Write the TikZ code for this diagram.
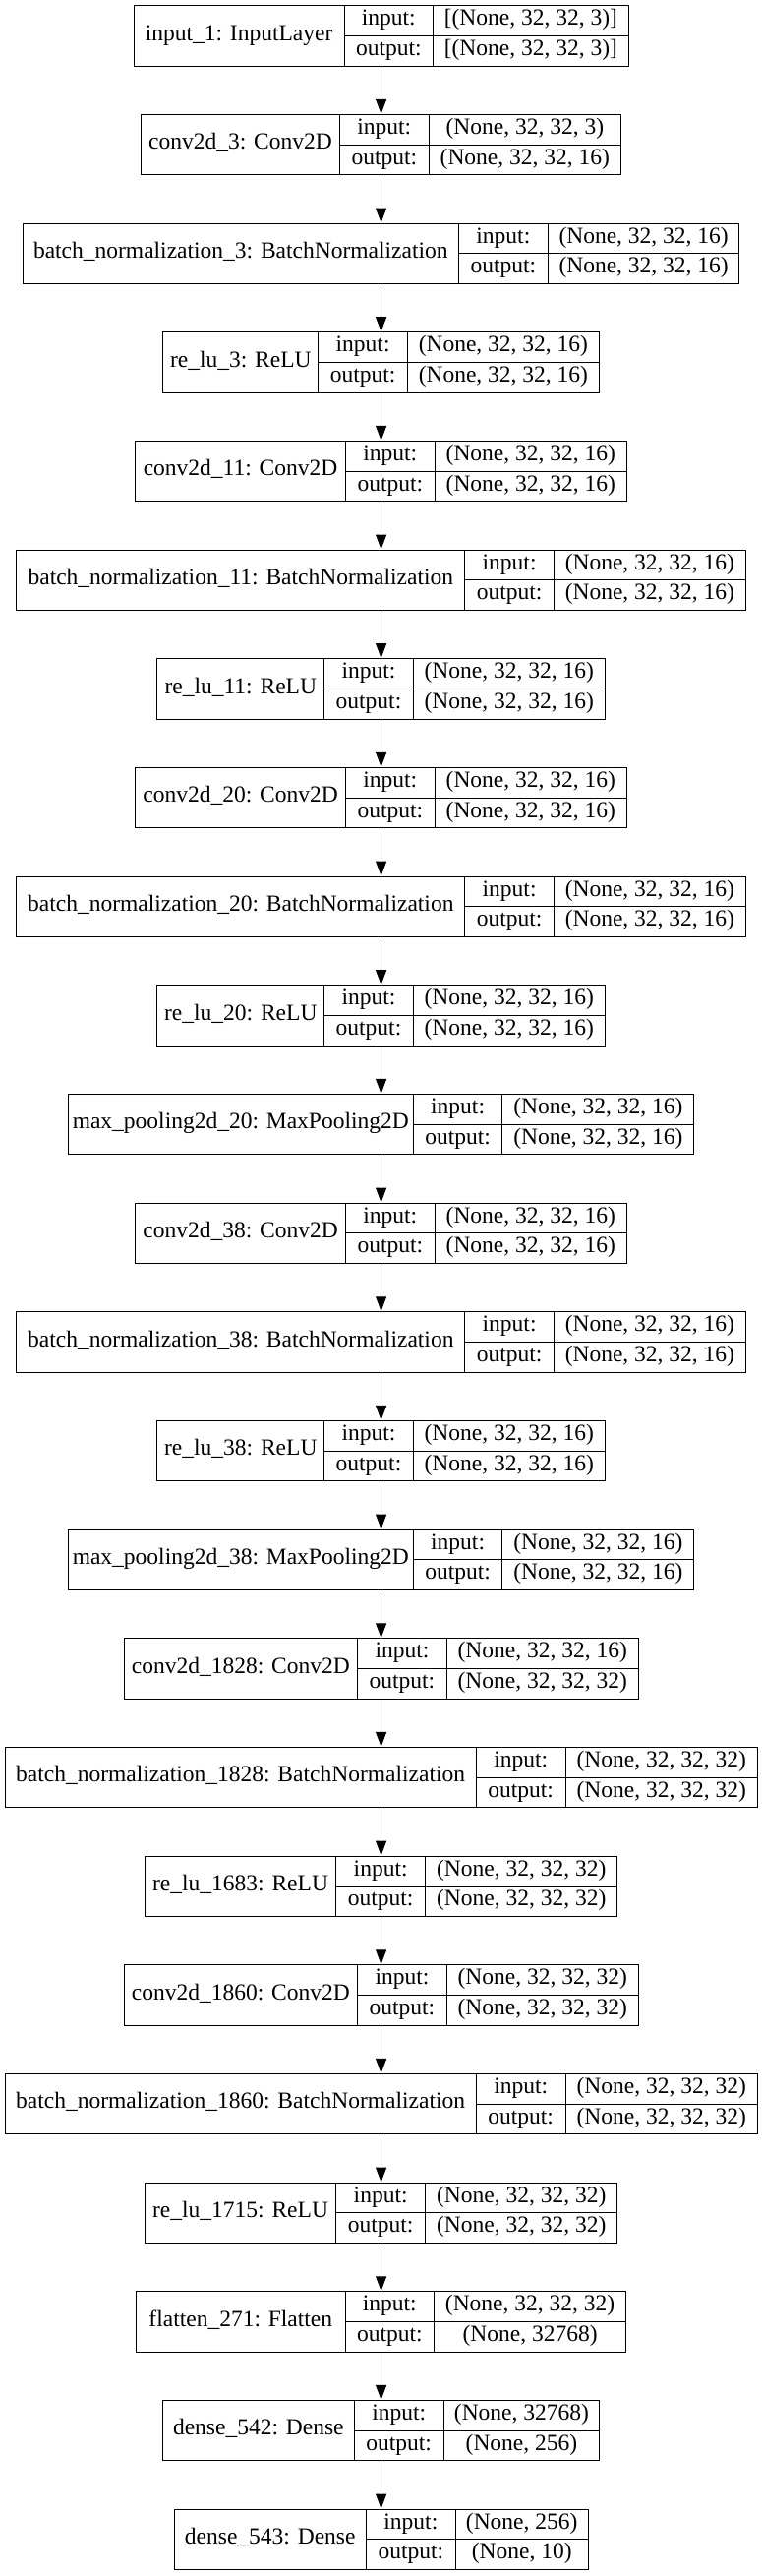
\documentclass[tikz,border=0pt]{standalone}
\usepackage{fontspec}
\setmainfont{Liberation Serif}
\usetikzlibrary{arrows.meta}
\tikzset{
  layerbox/.style={draw=black, line width=1pt, inner sep=0pt, minimum height=61.3pt},
  cellline/.style={draw=black, line width=1pt},
  celltext/.style={inner sep=0pt, text height=15.6pt, text depth=6pt, font=\fontsize{23.5}{28}\selectfont},
  flow/.style={-{Triangle[length=15pt,width=11pt]}, line width=1pt, draw=black},
}
% #1 name, #2 index, #3 left x, #4 first divider, #5 second divider, #6 label, #7 input shape, #8 output shape
\newcommand{\klayer}[8]{%
  \pgfmathsetmacro{\yT}{5.7+110.67*#2}%
  \pgfmathsetmacro{\yM}{\yT+30.65}%
  \pgfmathsetmacro{\yB}{\yT+61.3}%
  \pgfmathsetmacro{\yA}{\yT+15.33}%
  \pgfmathsetmacro{\yC}{\yT+45.98}%
  \pgfmathsetmacro{\xR}{775.2-#3}%
  \pgfmathsetmacro{\wid}{\xR-#3}%
  \node[layerbox, minimum width=\wid pt] (#1) at (387.6,\yM) {};
  \draw[cellline] (#4,\yT) -- (#4,\yB) (#5,\yT) -- (#5,\yB) (#4,\yM) -- (\xR,\yM);
  \node[celltext] (#1-name) at ({(#3+#4)/2},\yM) {#6};
  \node[celltext] (#1-inl) at ({(#4+#5)/2},\yA) {input:};
  \node[celltext] (#1-outl) at ({(#4+#5)/2},\yC) {output:};
  \node[celltext] (#1-in) at ({(#5+\xR)/2},\yA) {#7};
  \node[celltext] (#1-out) at ({(#5+\xR)/2},\yC) {#8};
}
\begin{document}
\begin{tikzpicture}[x=1pt,y=-1pt]
\useasboundingbox (0,0) rectangle (775,2619);
\klayer{L0}{0}{136.1}{350}{440.6}{input\_1: InputLayer}{[(None, 32, 32, 3)]}{[(None, 32, 32, 3)]}
\klayer{L1}{1}{143.6}{345.5}{436.1}{conv2d\_3: Conv2D}{(None, 32, 32, 3)}{(None, 32, 32, 16)}
\klayer{L2}{2}{23.3}{466.3}{557.4}{batch\_normalization\_3: BatchNormalization}{(None, 32, 32, 16)}{(None, 32, 32, 16)}
\klayer{L3}{3}{165.8}{323.8}{414.4}{re\_lu\_3: ReLU}{(None, 32, 32, 16)}{(None, 32, 32, 16)}
\klayer{L4}{4}{137.6}{351.5}{442.1}{conv2d\_11: Conv2D}{(None, 32, 32, 16)}{(None, 32, 32, 16)}
\klayer{L5}{5}{16.8}{472.8}{563.4}{batch\_normalization\_11: BatchNormalization}{(None, 32, 32, 16)}{(None, 32, 32, 16)}
\klayer{L6}{6}{159.9}{329.7}{420.3}{re\_lu\_11: ReLU}{(None, 32, 32, 16)}{(None, 32, 32, 16)}
\klayer{L7}{7}{137.6}{351.5}{442.1}{conv2d\_20: Conv2D}{(None, 32, 32, 16)}{(None, 32, 32, 16)}
\klayer{L8}{8}{16.8}{472.8}{563.4}{batch\_normalization\_20: BatchNormalization}{(None, 32, 32, 16)}{(None, 32, 32, 16)}
\klayer{L9}{9}{159.9}{329.7}{420.3}{re\_lu\_20: ReLU}{(None, 32, 32, 16)}{(None, 32, 32, 16)}
\klayer{L10}{10}{69.3}{420.3}{510.9}{max\_pooling2d\_20: MaxPooling2D}{(None, 32, 32, 16)}{(None, 32, 32, 16)}
\klayer{L11}{11}{137.6}{351.5}{442.1}{conv2d\_38: Conv2D}{(None, 32, 32, 16)}{(None, 32, 32, 16)}
\klayer{L12}{12}{16.8}{472.8}{563.4}{batch\_normalization\_38: BatchNormalization}{(None, 32, 32, 16)}{(None, 32, 32, 16)}
\klayer{L13}{13}{159.9}{329.7}{420.3}{re\_lu\_38: ReLU}{(None, 32, 32, 16)}{(None, 32, 32, 16)}
\klayer{L14}{14}{69.3}{420.3}{510.9}{max\_pooling2d\_38: MaxPooling2D}{(None, 32, 32, 16)}{(None, 32, 32, 16)}
\klayer{L15}{15}{126.2}{363.4}{454.5}{conv2d\_1828: Conv2D}{(None, 32, 32, 16)}{(None, 32, 32, 32)}
\klayer{L16}{16}{5}{484.2}{575.2}{batch\_normalization\_1828: BatchNormalization}{(None, 32, 32, 32)}{(None, 32, 32, 32)}
\klayer{L17}{17}{147.5}{341.6}{432.7}{re\_lu\_1683: ReLU}{(None, 32, 32, 32)}{(None, 32, 32, 32)}
\klayer{L18}{18}{126.2}{363.4}{454.5}{conv2d\_1860: Conv2D}{(None, 32, 32, 32)}{(None, 32, 32, 32)}
\klayer{L19}{19}{5}{484.2}{575.2}{batch\_normalization\_1860: BatchNormalization}{(None, 32, 32, 32)}{(None, 32, 32, 32)}
\klayer{L20}{20}{147.5}{341.6}{432.7}{re\_lu\_1715: ReLU}{(None, 32, 32, 32)}{(None, 32, 32, 32)}
\klayer{L21}{21}{138.6}{351}{441.6}{flatten\_271: Flatten}{(None, 32, 32, 32)}{(None, 32768)}
\klayer{L22}{22}{165.3}{360.4}{451}{dense\_542: Dense}{(None, 32768)}{(None, 256)}
\klayer{L23}{23}{177.2}{372.3}{463.4}{dense\_543: Dense}{(None, 256)}{(None, 10)}
\foreach \a/\b in {L0/L1,L1/L2,L2/L3,L3/L4,L4/L5,L5/L6,L6/L7,L7/L8,L8/L9,L9/L10,L10/L11,L11/L12,L12/L13,L13/L14,L14/L15,L15/L16,L16/L17,L17/L18,L18/L19,L19/L20,L20/L21,L21/L22,L22/L23}
  \draw[flow] (\a) -- (\b);
\end{tikzpicture}
\end{document}
